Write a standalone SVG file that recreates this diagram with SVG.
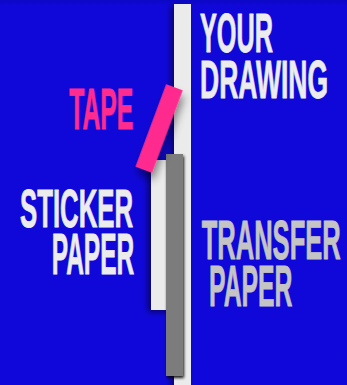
<svg xmlns="http://www.w3.org/2000/svg" width="347" height="385" viewBox="0 0 347 385">
  <defs>
    <linearGradient id="bg" x1="0" y1="0" x2="0" y2="1">
      <stop offset="0" stop-color="#0c07c4"/>
      <stop offset="0.015" stop-color="#1008d9"/>
      <stop offset="1" stop-color="#1008da"/>
    </linearGradient>
    <filter id="shLeft" x="-100%" y="-10%" width="300%" height="120%">
      <feDropShadow dx="-3" dy="2" stdDeviation="3" flood-color="#000" flood-opacity="0.55"/>
    </filter>
    <filter id="shGray" x="-50%" y="-10%" width="200%" height="120%">
      <feDropShadow dx="1" dy="2" stdDeviation="1.5" flood-color="#000" flood-opacity="0.9"/>
    </filter>
    <filter id="shTape" x="-100%" y="-50%" width="300%" height="200%">
      <feDropShadow dx="4" dy="6" stdDeviation="4" flood-color="#000" flood-opacity="0.45"/>
    </filter>
  </defs>
  <style>
    .lbl { font-family: "Liberation Sans", Arial, sans-serif; font-weight: bold; stroke-width: 0.9; stroke-linejoin: miter; }
    .light { fill: #ececec; stroke: #ececec; }
    .grey { fill: #c4c4c4; stroke: #c4c4c4; }
    .pink { fill: #ff2b8e; stroke: #ff2b8e; }
  </style>
  <rect x="0" y="0" width="347" height="385" fill="url(#bg)"/>

  <g id="your-drawing">
    <rect x="174" y="4" width="17" height="385" fill="#ebebeb" filter="url(#shLeft)"/>
    <text class="lbl light" x="200" y="51.5" font-size="55" textLength="73" lengthAdjust="spacingAndGlyphs">YOUR</text>
    <text class="lbl light" x="200" y="97.5" font-size="54" textLength="128" lengthAdjust="spacingAndGlyphs">DRAWING</text>
  </g>

  <g id="sticker-paper">
    <rect x="151" y="160" width="22" height="150" fill="#ebebeb" filter="url(#shLeft)"/>
    <text class="lbl light" x="20" y="226.5" font-size="53.5" textLength="113" lengthAdjust="spacingAndGlyphs">STICKER</text>
    <text class="lbl light" x="51.7" y="273.5" font-size="58" textLength="82.5" lengthAdjust="spacingAndGlyphs">PAPER</text>
  </g>

  <g id="transfer-paper">
    <rect x="166" y="154" width="17" height="222" fill="#7b7b7b" filter="url(#shGray)"/>
    <text class="lbl grey" x="201.7" y="259" font-size="55.5" textLength="139" lengthAdjust="spacingAndGlyphs">TRANSFER</text>
    <text class="lbl grey" x="209" y="306.3" font-size="57.5" textLength="83.5" lengthAdjust="spacingAndGlyphs">PAPER</text>
  </g>

  <g id="tape">
    <rect x="-8.8" y="-44" width="17.6" height="88" fill="#ff2b8e" filter="url(#shTape)" transform="translate(159.1 128.5) rotate(20.4)"/>
    <text class="lbl pink" x="69.3" y="129" font-size="58" textLength="64" lengthAdjust="spacingAndGlyphs">TAPE</text>
  </g>

  <g id="connectors"/>
</svg>
